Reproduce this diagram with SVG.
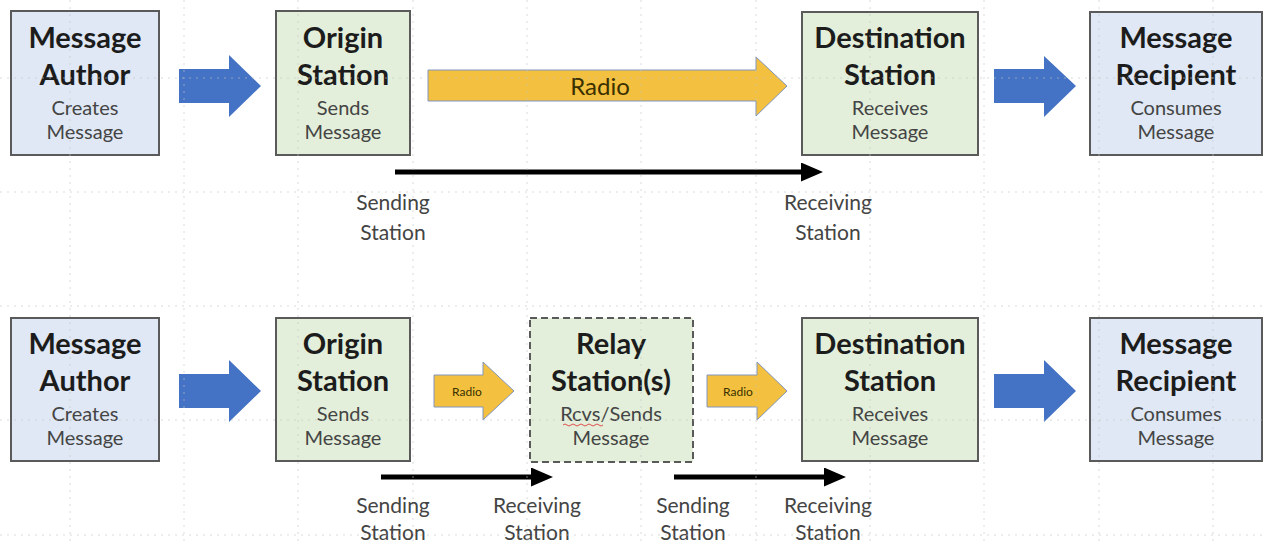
<svg xmlns="http://www.w3.org/2000/svg" width="1265" height="546" viewBox="0 0 1265 546">
<defs>
<style>
.box{stroke:#5a5a5a;stroke-width:2}
.blue{fill:#dfe8f4}
.green{fill:#e3efda}
.dash{stroke-dasharray:7 4}
.t{font-family:Lato,"Liberation Sans",sans-serif;font-weight:bold;font-size:29px;fill:#1c1c1c;text-anchor:middle}
.s{font-family:Lato,"Liberation Sans",sans-serif;font-size:20px;fill:#444;text-anchor:middle}
.l{font-family:Lato,"Liberation Sans",sans-serif;font-size:21px;fill:#444;text-anchor:middle}
.bigarrow{fill:#4472c4}
.radio{fill:#f3c03f;stroke:#8096bf;stroke-width:1}
.rt{font-family:Lato,"Liberation Sans",sans-serif;fill:#3a3000;text-anchor:middle}
.conn{stroke:#000;stroke-width:5;fill:none}
.grid{stroke:#c4c4c4;stroke-width:1;stroke-dasharray:2 5;opacity:0.6}
</style>
<marker id="head" markerUnits="userSpaceOnUse" markerWidth="22" markerHeight="20" refX="10" refY="9.5" orient="auto">
<path d="M0,0 L22,9.5 L0,19 z" fill="#000"/>
</marker>
</defs>
<rect width="1265" height="546" fill="#fff"/>

<g id="author1">
<rect class="box blue" x="11" y="11" width="148" height="144"/>
<text class="t" x="85" y="48">Message</text>
<text class="t" x="85" y="85">Author</text>
<text class="s" x="85" y="115">Creates</text>
<text class="s" x="85" y="139">Message</text>
</g>
<g id="origin1">
<rect class="box green" x="276" y="11" width="134" height="144"/>
<text class="t" x="343" y="48">Origin</text>
<text class="t" x="343" y="85">Station</text>
<text class="s" x="343" y="115">Sends</text>
<text class="s" x="343" y="139">Message</text>
</g>
<g id="dest1">
<rect class="box green" x="802" y="12" width="176" height="143"/>
<text class="t" x="890" y="48">Destination</text>
<text class="t" x="890" y="85">Station</text>
<text class="s" x="890" y="115">Receives</text>
<text class="s" x="890" y="139">Message</text>
</g>
<g id="recipient1">
<rect class="box blue" x="1090" y="12" width="172" height="143"/>
<text class="t" x="1176" y="48">Message</text>
<text class="t" x="1176" y="85">Recipient</text>
<text class="s" x="1176" y="115">Consumes</text>
<text class="s" x="1176" y="139">Message</text>
</g>

<g id="author2">
<rect class="box blue" x="11" y="318" width="148" height="143"/>
<text class="t" x="85" y="354">Message</text>
<text class="t" x="85" y="391">Author</text>
<text class="s" x="85" y="421">Creates</text>
<text class="s" x="85" y="445">Message</text>
</g>
<g id="origin2">
<rect class="box green" x="276" y="318" width="134" height="143"/>
<text class="t" x="343" y="354">Origin</text>
<text class="t" x="343" y="391">Station</text>
<text class="s" x="343" y="421">Sends</text>
<text class="s" x="343" y="445">Message</text>
</g>
<g id="relay">
<rect class="box green dash" x="530" y="318" width="163" height="144"/>
<text class="t" x="611" y="354">Relay</text>
<text class="t" x="611" y="391">Station(s)</text>
<text class="s" x="611" y="421">Rcvs/Sends</text>
<text class="s" x="611" y="445">Message</text>
<path d="M563,425 q2,-2 4,0 t4,0 t4,0 t4,0 t4,0 t4,0 t4,0 t4,0 t4,0 t4,0" fill="none" stroke="#e05050" stroke-width="1"/>
</g>
<g id="dest2">
<rect class="box green" x="802" y="318" width="176" height="143"/>
<text class="t" x="890" y="354">Destination</text>
<text class="t" x="890" y="391">Station</text>
<text class="s" x="890" y="421">Receives</text>
<text class="s" x="890" y="445">Message</text>
</g>
<g id="recipient2">
<rect class="box blue" x="1090" y="318" width="172" height="143"/>
<text class="t" x="1176" y="354">Message</text>
<text class="t" x="1176" y="391">Recipient</text>
<text class="s" x="1176" y="421">Consumes</text>
<text class="s" x="1176" y="445">Message</text>
</g>

<g id="connectors">
<polygon class="bigarrow" points="179,69 229,69 229,55 261,86 229,117 229,103 179,103"/>
<polygon class="bigarrow" points="994,69 1044,69 1044,56 1076,86 1044,117 1044,103 994,103"/>
<polygon class="bigarrow" points="179,374 229,374 229,360 261,391 229,422 229,408 179,408"/>
<polygon class="bigarrow" points="994,374 1044,374 1044,360 1076,391 1044,422 1044,408 994,408"/>

<polygon class="radio" points="428,70 756,70 756,57 787,86 756,116 756,101 428,101"/>
<text class="rt" x="600" y="95" font-size="24">Radio</text>
<polygon class="radio" points="434,375 483,375 483,362 514,391 483,420 483,407 434,407"/>
<text class="rt" x="467" y="396" font-size="12">Radio</text>
<polygon class="radio" points="707,375 757,375 757,362 787,391 757,420 757,407 707,407"/>
<text class="rt" x="738" y="396" font-size="12">Radio</text>

<line class="conn" x1="395" y1="172" x2="811" y2="172" marker-end="url(#head)"/>
<line class="conn" x1="381" y1="477" x2="541" y2="477" marker-end="url(#head)"/>
<line class="conn" x1="674" y1="477" x2="834" y2="477" marker-end="url(#head)"/>
</g>

<g id="labels">
<text class="l" x="393" y="210">Sending</text>
<text class="l" x="393" y="240">Station</text>
<text class="l" x="828" y="210">Receiving</text>
<text class="l" x="828" y="240">Station</text>
<text class="l" x="393" y="513">Sending</text>
<text class="l" x="393" y="540">Station</text>
<text class="l" x="537" y="513">Receiving</text>
<text class="l" x="537" y="540">Station</text>
<text class="l" x="693" y="513">Sending</text>
<text class="l" x="693" y="540">Station</text>
<text class="l" x="828" y="513">Receiving</text>
<text class="l" x="828" y="540">Station</text>
</g>

<g id="gridlines" class="grid">
<line x1="0" y1="78" x2="1265" y2="78"/>
<line x1="0" y1="192" x2="1265" y2="192"/>
<line x1="0" y1="306" x2="1265" y2="306"/>
<line x1="0" y1="420" x2="1265" y2="420"/>
<line x1="0" y1="535" x2="1265" y2="535"/>
<line x1="70" y1="0" x2="70" y2="546"/>
<line x1="184" y1="0" x2="184" y2="546"/>
<line x1="298" y1="0" x2="298" y2="546"/>
<line x1="413" y1="0" x2="413" y2="546"/>
<line x1="527" y1="0" x2="527" y2="546"/>
<line x1="641" y1="0" x2="641" y2="546"/>
<line x1="756" y1="0" x2="756" y2="546"/>
<line x1="870" y1="0" x2="870" y2="546"/>
<line x1="984" y1="0" x2="984" y2="546"/>
<line x1="1099" y1="0" x2="1099" y2="546"/>
<line x1="1213" y1="0" x2="1213" y2="546"/>
</g>
</svg>
